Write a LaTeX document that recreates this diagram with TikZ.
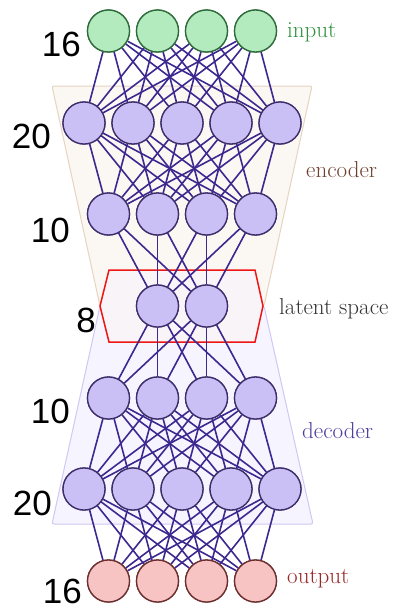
\documentclass[tikz,border=0pt]{standalone}
\usepackage{fontspec}
\newfontfamily\arialf{Liberation Sans}
\definecolor{nfill}{HTML}{CBC0F5}
\definecolor{ndraw}{HTML}{3D2E6B}
\definecolor{lnk}{HTML}{3D2890}
\definecolor{infill}{HTML}{B3EBBE}
\definecolor{indraw}{HTML}{2E6B3A}
\definecolor{intext}{HTML}{2F9040}
\definecolor{outfill}{HTML}{F7C3C3}
\definecolor{outdraw}{HTML}{6B2E2E}
\definecolor{outtext}{HTML}{982828}
\definecolor{enctext}{HTML}{6E4030}
\definecolor{dectext}{HTML}{4E3CA0}
\definecolor{lattext}{HTML}{333333}
\definecolor{encfill}{HTML}{FBF7F2}
\definecolor{encdraw}{HTML}{E6D3C0}
\definecolor{decfill}{HTML}{F6F4FF}
\definecolor{decdraw}{HTML}{D0C8F2}
\definecolor{hexred}{HTML}{EE1515}
\definecolor{hexfill}{HTML}{F9F4F7}
\begin{document}
\begin{tikzpicture}[x=1pt,y=-1pt,
  neuron/.style={circle,minimum size=42pt,inner sep=0pt,draw=ndraw,fill=nfill,line width=1.3pt},
  inneuron/.style={neuron,draw=indraw,fill=infill},
  outneuron/.style={neuron,draw=outdraw,fill=outfill},
  link/.style={draw=lnk,line width=1.6pt},
  numlab/.style={anchor=base east,inner sep=0pt,font=\arialf\fontsize{35}{40}\selectfont},
  sidelab/.style={anchor=base west,inner sep=0pt,font=\fontsize{23}{27}\selectfont}]
\useasboundingbox (0,0) rectangle (399,608);
% trapezoids
\draw[fill=encfill,draw=encdraw,line width=1pt,rounded corners=2pt] (52,86) -- (312,86) -- (264,306) -- (100,306) -- cycle;
\draw[fill=decfill,draw=decdraw,line width=1pt,rounded corners=2pt] (100,306) -- (264,306) -- (313,524) -- (52,524) -- cycle;
% latent hexagon
\draw[fill=hexfill,draw=hexred,line width=1.5pt] (109,270) -- (255,270) -- (263,306) -- (255,342) -- (109,342) -- (100,306) -- cycle;
% nodes
\foreach \i in {1,...,4} {
  \node[inneuron] (i\i) at ({108.5+49*(\i-1)},31) {};
  \node[neuron] (b\i) at ({108.5+49*(\i-1)},214) {};
  \node[neuron] (c\i) at ({108.5+49*(\i-1)},398) {};
  \node[outneuron] (o\i) at ({108.5+49*(\i-1)},581) {};
}
\foreach \i in {1,...,5} {
  \node[neuron] (a\i) at ({84+49*(\i-1)},123) {};
  \node[neuron] (d\i) at ({84+49*(\i-1)},489) {};
}
\node[neuron] (l1) at (157.5,306) {};
\node[neuron] (l2) at (206.5,306) {};
% links
\foreach \i in {1,...,4} \foreach \j in {1,...,5} {
  \draw[link] (i\i) -- (a\j);
  \draw[link] (b\i) -- (a\j);
  \draw[link] (c\i) -- (d\j);
  \draw[link] (o\i) -- (d\j);
}
\foreach \i in {1,...,4} \foreach \j in {1,2} {
  \draw[link] (b\i) -- (l\j);
  \draw[link] (c\i) -- (l\j);
}
% redraw nodes on top
\foreach \i in {1,...,4} {
  \node[inneuron] at (i\i) {};
  \node[neuron] at (b\i) {};
  \node[neuron] at (c\i) {};
  \node[outneuron] at (o\i) {};
}
\foreach \i in {1,...,5} {
  \node[neuron] at (a\i) {};
  \node[neuron] at (d\i) {};
}
\node[neuron] at (l1) {};
\node[neuron] at (l2) {};
% number labels
\node[numlab] (n1) at (81,56) {16};
\node[numlab] (n2) at (51,148) {20};
\node[numlab] (n3) at (70,242) {10};
\node[numlab] (n4) at (96,332) {8};
\node[numlab] (n5) at (70,423) {10};
\node[numlab] (n6) at (52,515) {20};
\node[numlab] (n7) at (82,603) {16};
% side labels
\node[sidelab,text=intext] (t1) at (287,37) {input};
\node[sidelab,text=enctext] (t2) at (306,177) {encoder};
\node[sidelab,text=lattext] (t3) at (279,314) {latent space};
\node[sidelab,text=dectext] (t4) at (302,438) {decoder};
\node[sidelab,text=outtext] (t5) at (287,583) {output};
\end{tikzpicture}
\end{document}
